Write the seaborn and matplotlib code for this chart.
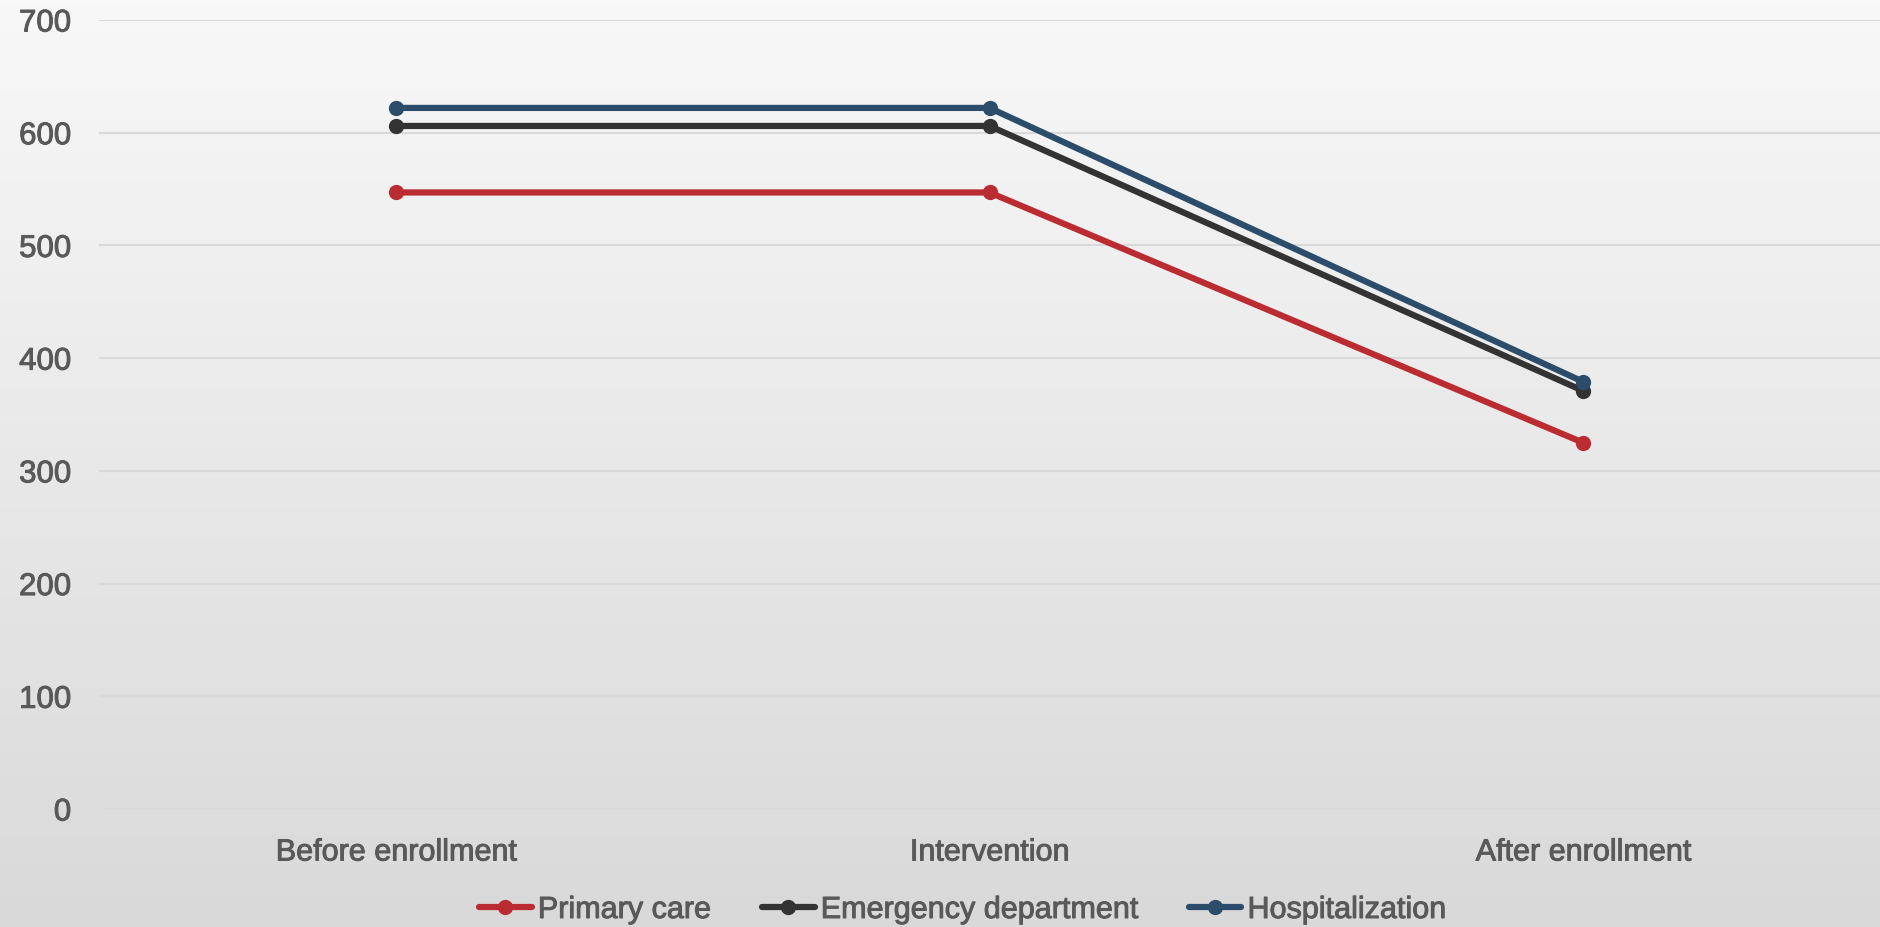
import numpy as np
import pandas as pd
import matplotlib
matplotlib.use("Agg")
import matplotlib.pyplot as plt
import matplotlib.patheffects as pe
from matplotlib.colors import LinearSegmentedColormap
import seaborn as sns

periods = ["Before enrollment", "Intervention", "After enrollment"]
series_names = ["Primary care", "Emergency department", "Hospitalization"]
primary_care = [547, 547, 325]
emergency_department = [606, 606, 371]
hospitalization = [622, 622, 379]
series_colors = ["#BA2C32", "#333333", "#2B4C6B"]
y_ticks = [0, 100, 200, 300, 400, 500, 600, 700]

df = pd.DataFrame({
    "period": periods * 3,
    "value": primary_care + emergency_department + hospitalization,
    "series": [s for s in series_names for _ in periods],
})

sns.set_theme(style="white")
plt.rcParams["font.family"] = ["Liberation Sans", "DejaVu Sans"]

TEXT_COLOR = "#595959"
heavier = [pe.withStroke(linewidth=0.7, foreground=TEXT_COLOR)]

W, H, DPI = 1880, 927, 100
fig = plt.figure(figsize=(W / DPI, H / DPI), dpi=DPI)

# vertical background gradient over the whole figure
bg = fig.add_axes([0, 0, 1, 1], zorder=-10)
grad = np.linspace(0, 1, 256).reshape(-1, 1)
cmap = LinearSegmentedColormap.from_list("bg", ["#F8F8F8", "#D9D9D9"])
bg.imshow(grad, aspect="auto", cmap=cmap, extent=[0, 1, 0, 1], origin="upper")
bg.set_axis_off()

left = 99 / W
bottom = 1 - 809 / H
top = 1 - 20 / H
ax = fig.add_axes([left, bottom, 1 - left, top - bottom])
ax.set_facecolor("none")

sns.lineplot(
    data=df, x="period", y="value", hue="series", hue_order=series_names,
    palette=series_colors, marker="o", markersize=11, markeredgewidth=0,
    linewidth=4.5, sort=False, ax=ax, legend=True,
)

ax.set_xlim(-0.5, 2.5)
ax.set_ylim(0, 700)
ax.set_yticks(y_ticks)
ax.grid(axis="y", color="#D9D9D9", linewidth=1.5)
ax.set_axisbelow(True)
for sp in ax.spines.values():
    sp.set_visible(False)
ax.set_xlabel("")
ax.set_ylabel("")
ax.tick_params(axis="y", length=0, pad=20, labelsize=22.5, labelcolor=TEXT_COLOR)
ax.tick_params(axis="x", length=0, pad=20.5, labelsize=22, labelcolor=TEXT_COLOR)
for lbl in ax.get_xticklabels() + ax.get_yticklabels():
    lbl.set_path_effects(heavier)

handles, labels = ax.get_legend_handles_labels()
ax.legend_.remove()
leg = fig.legend(
    handles, labels, loc="center", bbox_to_anchor=(962 / W, 1 - 910 / H), ncol=3,
    frameon=False, handlelength=1.73, handletextpad=0.2, columnspacing=1.67,
    fontsize=22, labelcolor=TEXT_COLOR,
)
for t in leg.get_texts():
    t.set_path_effects(heavier)

fig.savefig("out.png", dpi=DPI)
